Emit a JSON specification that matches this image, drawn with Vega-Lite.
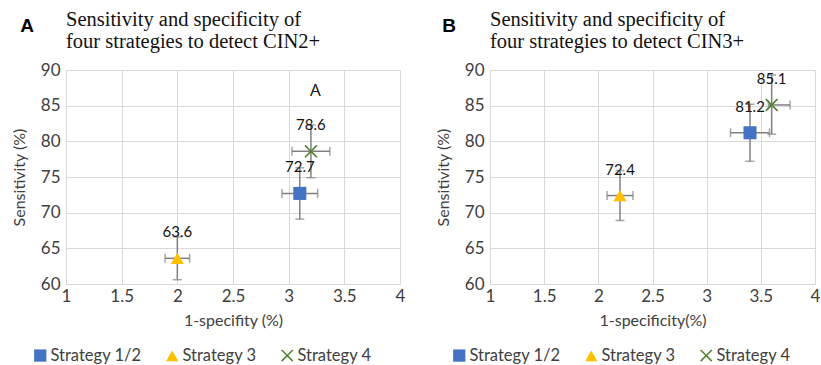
{
  "$schema": "https://vega.github.io/schema/vega-lite/v6.json",
  "background": "white",
  "padding": {"left": 11, "top": 9, "right": 0, "bottom": 0},
  "spacing": 30,
  "config": {
    "view": {"stroke": null},
    "font": "Lato",
    "axis": {"domain": false, "ticks": false, "gridColor": "#d9d9d9", "gridWidth": 1, "labelFont": "Lato", "labelFontSize": 17, "labelColor": "#404040", "titleFont": "Lato", "titleFontSize": 16, "titleFontWeight": "normal", "titleColor": "#404040", "labelFlush": false, "labelOverlap": false},
    "axisX": {"values": [1, 1.5, 2, 2.5, 3, 3.5, 4], "format": "~g", "labelPadding": 4, "titlePadding": 8},
    "axisY": {"values": [60, 65, 70, 75, 80, 85, 90], "labelPadding": 6, "titlePadding": 13},
    "title": {"font": "Liberation Serif", "fontSize": 20.5, "fontWeight": "normal", "anchor": "start", "frame": "group", "lineHeight": 22, "offset": 9, "color": "#111"},
    "legend": {"orient": "none", "legendX": -34, "legendY": 277, "direction": "horizontal", "symbolSize": 150, "labelFont": "Lato", "labelFontSize": 16.5, "labelColor": "#404040", "labelOffset": 2, "columnPadding": 21, "symbolOpacity": 1}
  },
  "datasets": {
    "pts": [
      {"panel": "A", "strategy": "Strategy 1/2", "x": 3.1, "y": 72.7, "xlo": 2.94, "xhi": 3.26, "ylo": 69.1, "yhi": 76.3},
      {"panel": "A", "strategy": "Strategy 3", "x": 2.0, "y": 63.6, "xlo": 1.89, "xhi": 2.11, "ylo": 60.6, "yhi": 66.6},
      {"panel": "A", "strategy": "Strategy 4", "x": 3.2, "y": 78.6, "xlo": 3.03, "xhi": 3.37, "ylo": 74.9, "yhi": 82.3},
      {"panel": "B", "strategy": "Strategy 1/2", "x": 3.4, "y": 81.2, "xlo": 3.22, "xhi": 3.58, "ylo": 77.2, "yhi": 85.2},
      {"panel": "B", "strategy": "Strategy 3", "x": 2.2, "y": 72.4, "xlo": 2.08, "xhi": 2.32, "ylo": 68.9, "yhi": 75.9},
      {"panel": "B", "strategy": "Strategy 4", "x": 3.6, "y": 85.1, "xlo": 3.57, "xhi": 3.77, "ylo": 81.0, "yhi": 89.3}
    ]
  },
  "resolve": {"legend": {"color": "independent", "shape": "independent"}},
  "hconcat": [
    {
      "title": {"text": "A", "font": "Liberation Sans", "fontSize": 19, "fontWeight": "bold", "anchor": "start", "frame": "bounds", "offset": 0, "dx": 9, "dy": 26, "color": "#000"},
      "hconcat": [
        {
          "width": 334, "height": 214,
          "title": {"text": ["Sensitivity and specificity of", "four strategies to detect CIN2+"]},
          "data": {"name": "pts"},
          "transform": [{"filter": "datum.panel === 'A'"}],
          "layer": [
            {"mark": {"type": "rule", "color": "#808080", "strokeWidth": 1.5},
             "encoding": {
               "x": {"field": "xlo", "type": "quantitative", "scale": {"domain": [1, 4], "nice": false, "zero": false}, "title": "1-specifity (%)"},
               "x2": {"field": "xhi"},
               "y": {"field": "y", "type": "quantitative", "scale": {"domain": [60, 90], "nice": false, "zero": false}, "title": "Sensitivity (%)"}}},
            {"mark": {"type": "rule", "color": "#808080", "strokeWidth": 1.5},
             "encoding": {
               "x": {"field": "x", "type": "quantitative", "scale": {"domain": [1, 4], "nice": false, "zero": false}, "title": "1-specifity (%)"},
               "y": {"field": "ylo", "type": "quantitative", "scale": {"domain": [60, 90], "nice": false, "zero": false}, "title": "Sensitivity (%)"},
               "y2": {"field": "yhi"}}},
            {"transform": [{"fold": ["xlo", "xhi"], "as": ["end", "xv"]}],
             "mark": {"type": "tick", "orient": "vertical", "color": "#808080", "size": 9, "thickness": 1.5},
             "encoding": {
               "x": {"field": "xv", "type": "quantitative", "scale": {"domain": [1, 4], "nice": false, "zero": false}, "title": "1-specifity (%)"},
               "y": {"field": "y", "type": "quantitative", "scale": {"domain": [60, 90], "nice": false, "zero": false}, "title": "Sensitivity (%)"}}},
            {"transform": [{"fold": ["ylo", "yhi"], "as": ["end", "yv"]}],
             "mark": {"type": "tick", "orient": "horizontal", "color": "#808080", "size": 9, "thickness": 1.5},
             "encoding": {
               "x": {"field": "x", "type": "quantitative", "scale": {"domain": [1, 4], "nice": false, "zero": false}, "title": "1-specifity (%)"},
               "y": {"field": "yv", "type": "quantitative", "scale": {"domain": [60, 90], "nice": false, "zero": false}, "title": "Sensitivity (%)"}}},
            {"mark": {"type": "point", "filled": true, "size": 170, "opacity": 1},
             "encoding": {
               "x": {"field": "x", "type": "quantitative", "scale": {"domain": [1, 4], "nice": false, "zero": false}, "title": "1-specifity (%)"},
               "y": {"field": "y", "type": "quantitative", "scale": {"domain": [60, 90], "nice": false, "zero": false}, "title": "Sensitivity (%)"},
               "color": {"field": "strategy", "type": "nominal", "scale": {"domain": ["Strategy 1/2", "Strategy 3", "Strategy 4"], "range": ["#4472C4", "#FFC000", "#548235"]}, "legend": {"title": null, "legendX": -34}},
               "shape": {"field": "strategy", "type": "nominal", "scale": {"domain": ["Strategy 1/2", "Strategy 3", "Strategy 4"], "range": ["square", "triangle-up", "M-1,-0.82L-0.82,-1L0,-0.18L0.82,-1L1,-0.82L0.18,0L1,0.82L0.82,1L0,0.18L-0.82,1L-1,0.82L-0.18,0Z"]}, "legend": {"title": null, "legendX": -34}}}},
            {"mark": {"type": "text", "dy": -26, "fontSize": 15, "color": "#111", "baseline": "middle"},
             "encoding": {
               "x": {"field": "x", "type": "quantitative", "scale": {"domain": [1, 4], "nice": false, "zero": false}, "title": "1-specifity (%)"},
               "y": {"field": "y", "type": "quantitative", "scale": {"domain": [60, 90], "nice": false, "zero": false}, "title": "Sensitivity (%)"},
               "text": {"field": "y", "type": "quantitative", "format": ".1f"}}},
            {"mark": {"type": "text", "fontSize": 17, "font": "Open Sans", "fontWeight": 300, "color": "#222", "baseline": "middle", "text": "A"},
             "encoding": {"x": {"datum": 3.24, "type": "quantitative"}, "y": {"datum": 87.0, "type": "quantitative"}}}
          ]
        }
      ]
    },
    {
      "title": {"text": "B", "font": "Liberation Sans", "fontSize": 19, "fontWeight": "bold", "anchor": "start", "frame": "bounds", "offset": 0, "dx": 7, "dy": 26, "color": "#000"},
      "hconcat": [
        {
          "width": 325, "height": 214,
          "title": {"text": ["Sensitivity and specificity of", "four strategies to detect CIN3+"]},
          "data": {"name": "pts"},
          "transform": [{"filter": "datum.panel === 'B'"}],
          "layer": [
            {"mark": {"type": "rule", "color": "#808080", "strokeWidth": 1.5},
             "encoding": {
               "x": {"field": "xlo", "type": "quantitative", "scale": {"domain": [1, 4], "nice": false, "zero": false}, "title": "1-specificity(%)"},
               "x2": {"field": "xhi"},
               "y": {"field": "y", "type": "quantitative", "scale": {"domain": [60, 90], "nice": false, "zero": false}, "title": "Sensitivity (%)"}}},
            {"mark": {"type": "rule", "color": "#808080", "strokeWidth": 1.5},
             "encoding": {
               "x": {"field": "x", "type": "quantitative", "scale": {"domain": [1, 4], "nice": false, "zero": false}, "title": "1-specificity(%)"},
               "y": {"field": "ylo", "type": "quantitative", "scale": {"domain": [60, 90], "nice": false, "zero": false}, "title": "Sensitivity (%)"},
               "y2": {"field": "yhi"}}},
            {"transform": [{"fold": ["xlo", "xhi"], "as": ["end", "xv"]}],
             "mark": {"type": "tick", "orient": "vertical", "color": "#808080", "size": 9, "thickness": 1.5},
             "encoding": {
               "x": {"field": "xv", "type": "quantitative", "scale": {"domain": [1, 4], "nice": false, "zero": false}, "title": "1-specificity(%)"},
               "y": {"field": "y", "type": "quantitative", "scale": {"domain": [60, 90], "nice": false, "zero": false}, "title": "Sensitivity (%)"}}},
            {"transform": [{"fold": ["ylo", "yhi"], "as": ["end", "yv"]}],
             "mark": {"type": "tick", "orient": "horizontal", "color": "#808080", "size": 9, "thickness": 1.5},
             "encoding": {
               "x": {"field": "x", "type": "quantitative", "scale": {"domain": [1, 4], "nice": false, "zero": false}, "title": "1-specificity(%)"},
               "y": {"field": "yv", "type": "quantitative", "scale": {"domain": [60, 90], "nice": false, "zero": false}, "title": "Sensitivity (%)"}}},
            {"mark": {"type": "point", "filled": true, "size": 170, "opacity": 1},
             "encoding": {
               "x": {"field": "x", "type": "quantitative", "scale": {"domain": [1, 4], "nice": false, "zero": false}, "title": "1-specificity(%)"},
               "y": {"field": "y", "type": "quantitative", "scale": {"domain": [60, 90], "nice": false, "zero": false}, "title": "Sensitivity (%)"},
               "color": {"field": "strategy", "type": "nominal", "scale": {"domain": ["Strategy 1/2", "Strategy 3", "Strategy 4"], "range": ["#4472C4", "#FFC000", "#548235"]}, "legend": {"title": null, "legendX": -39}},
               "shape": {"field": "strategy", "type": "nominal", "scale": {"domain": ["Strategy 1/2", "Strategy 3", "Strategy 4"], "range": ["square", "triangle-up", "M-1,-0.82L-0.82,-1L0,-0.18L0.82,-1L1,-0.82L0.18,0L1,0.82L0.82,1L0,0.18L-0.82,1L-1,0.82L-0.18,0Z"]}, "legend": {"title": null, "legendX": -39}}}},
            {"mark": {"type": "text", "dy": -26, "fontSize": 15, "color": "#111", "baseline": "middle"},
             "encoding": {
               "x": {"field": "x", "type": "quantitative", "scale": {"domain": [1, 4], "nice": false, "zero": false}, "title": "1-specificity(%)"},
               "y": {"field": "y", "type": "quantitative", "scale": {"domain": [60, 90], "nice": false, "zero": false}, "title": "Sensitivity (%)"},
               "text": {"field": "y", "type": "quantitative", "format": ".1f"}}}
          ]
        }
      ]
    }
  ]
}
